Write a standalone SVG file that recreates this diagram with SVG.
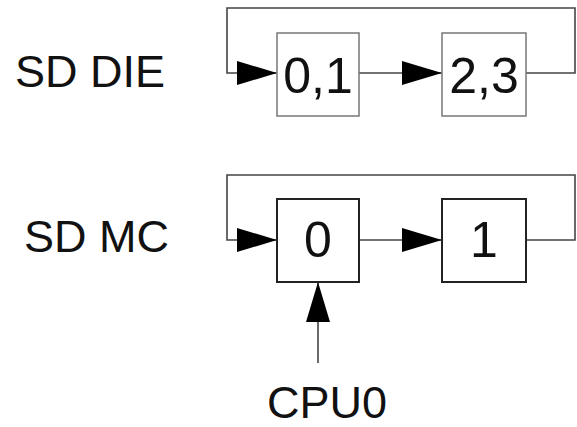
<svg xmlns="http://www.w3.org/2000/svg" width="577" height="427" viewBox="0 0 577 427">
<defs>
<marker id="ah" markerUnits="userSpaceOnUse" markerWidth="40" markerHeight="24" refX="40" refY="12" orient="auto">
<polygon points="0,0 40,12 0,24" fill="#000"/>
</marker>
<style>
.lbl{font-family:"Liberation Sans",Arial,sans-serif;font-size:45px;fill:#111}
.num{font-family:"Liberation Sans",Arial,sans-serif;font-size:50px;fill:#111;text-anchor:middle}
.box1{fill:#fff;stroke:#777;stroke-width:1.5}
.box2{fill:#fff;stroke:#222;stroke-width:2}
.c{fill:none;stroke:#444;stroke-width:1.6}
</style>
</defs>
<g id="connectors">
<path class="c" d="M526 73 H575 V8 H227 V73 H277" marker-end="url(#ah)"/>
<path class="c" d="M359 73 H442" marker-end="url(#ah)"/>
<path class="c" d="M526 240 H575 V175 H227 V240 H277" marker-end="url(#ah)"/>
<path class="c" d="M359 240 H442" marker-end="url(#ah)"/>
<path class="c" d="M318 363 V282" stroke="#888" marker-end="url(#ah)"/>
</g>
<g id="label-sd-die"><text class="lbl" x="15" y="87">SD DIE</text></g>
<g id="label-sd-mc"><text class="lbl" x="24" y="252">SD MC</text></g>
<g id="node-01"><rect class="box1" x="277" y="33" width="82" height="83"/><text class="num" x="318" y="93">0,1</text></g>
<g id="node-23"><rect class="box1" x="442" y="33" width="84" height="83"/><text class="num" x="484" y="93">2,3</text></g>
<g id="node-0"><rect class="box2" x="277" y="199" width="82" height="83"/><text class="num" x="318" y="257">0</text></g>
<g id="node-1"><rect class="box2" x="442" y="199" width="84" height="83"/><text class="num" x="484" y="257">1</text></g>
<g id="label-cpu0"><text class="lbl" x="267" y="418">CPU0</text></g>
</svg>
